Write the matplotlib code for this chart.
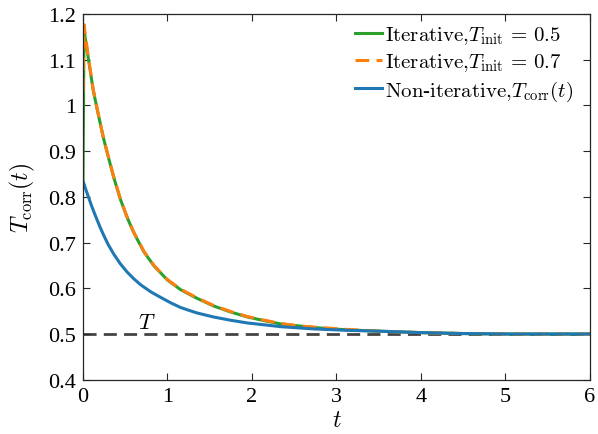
import matplotlib
matplotlib.use("Agg")
import matplotlib.pyplot as plt

plt.rcParams['font.family'] = ['Liberation Serif', 'DejaVu Serif']
plt.rcParams['mathtext.fontset'] = 'cm'

# Iterative, T_init = 0.5 (green)
t_iter05 = [0.0, 0.012, 0.063, 0.122, 0.18, 0.24, 0.30, 0.36, 0.44, 0.52, 0.60,
            0.72, 0.84, 1.0, 1.155, 1.35, 1.55, 1.75, 1.95, 2.15, 2.34, 2.54, 2.74,
            3.13, 3.53, 4.0, 4.5, 5.0, 6.0]
v_iter05 = [0.84, 1.165, 1.103, 1.032, 0.981, 0.930, 0.887, 0.845, 0.796, 0.756, 0.722,
            0.680, 0.649, 0.618, 0.597, 0.578, 0.561, 0.548, 0.537, 0.529, 0.522, 0.518,
            0.514, 0.509, 0.506, 0.503, 0.501, 0.500, 0.500]

# Iterative, T_init = 0.7 (orange dashed)
t_iter07 = [0.0, 0.012, 0.063, 0.122, 0.18, 0.24, 0.30, 0.36, 0.44, 0.52, 0.60,
            0.72, 0.84, 1.0, 1.155, 1.35, 1.55, 1.75, 1.95, 2.15, 2.34, 2.54, 2.74,
            3.13, 3.53, 4.0, 4.5, 5.0, 6.0]
v_iter07 = [1.03, 1.177, 1.106, 1.034, 0.982, 0.931, 0.888, 0.846, 0.797, 0.757, 0.723,
            0.681, 0.650, 0.619, 0.598, 0.579, 0.562, 0.549, 0.538, 0.530, 0.523, 0.518,
            0.515, 0.510, 0.506, 0.503, 0.501, 0.500, 0.500]

# Non-iterative (blue)
t_non = [0.0, 0.035, 0.07, 0.10, 0.146, 0.206, 0.25, 0.30, 0.363, 0.44, 0.52, 0.60,
         0.68, 0.80, 0.92, 1.04, 1.155, 1.25, 1.35, 1.55, 1.75, 1.95, 2.15, 2.34,
         2.74, 3.13, 3.53, 4.0, 4.5, 5.0, 6.0]
v_non = [0.835, 0.815, 0.797, 0.781, 0.759, 0.732, 0.714, 0.695, 0.675, 0.654, 0.636,
         0.621, 0.608, 0.5925, 0.580, 0.568, 0.558, 0.552, 0.546, 0.537, 0.530, 0.524,
         0.520, 0.516, 0.511, 0.508, 0.506, 0.503, 0.501, 0.500, 0.500]

T_ref = 0.5
x_ticks = [0, 1, 2, 3, 4, 5, 6]
y_ticks = [0.4, 0.5, 0.6, 0.7, 0.8, 0.9, 1.0, 1.1, 1.2]
y_tick_labels = ['0.4', '0.5', '0.6', '0.7', '0.8', '0.9', '1', '1.1', '1.2']

fig = plt.figure(figsize=(5.98, 4.35), dpi=100)
ax = fig.add_axes([0.1388, 0.1248, 0.9866 - 0.1388, 0.9655 - 0.1248])

ax.plot(t_iter05, v_iter05, color='#2ca02c', lw=2.2,
        label=r'$\mathrm{Iterative}{,}T_{\mathrm{init}}\,=\,0.5$')
ax.plot(t_iter07, v_iter07, color='#ff7f0e', lw=2.2, dashes=(4.5, 2.4),
        label=r'$\mathrm{Iterative}{,}T_{\mathrm{init}}\,=\,0.7$')
ax.plot(t_non, v_non, color='#1f77b4', lw=2.2,
        label=r'$\mathrm{Non}$-$\mathrm{iterative}{,}T_{\mathrm{corr}}(t)$')
ax.axhline(T_ref, color='#444444', lw=2.0, dashes=(4.7, 2.6), zorder=1)
ax.text(0.76, 0.522, r'$T$', fontsize=16, ha='center', va='center')

ax.set_xlim(0, 6)
ax.set_ylim(0.4, 1.2)
ax.set_xticks(x_ticks)
ax.set_yticks(y_ticks)
ax.set_yticklabels(y_tick_labels)
ax.tick_params(direction='in', top=True, right=True, labelsize=16,
               length=5, width=0.8, colors='#262626', labelcolor='black', pad=5)
for s in ax.spines.values():
    s.set_color('#262626')
    s.set_linewidth(0.9)

ax.set_xlabel(r'$t$', fontsize=17, labelpad=3)
ax.set_ylabel(r'$T_{\mathrm{corr}}(t)$', fontsize=17, labelpad=8)

ax.legend(loc='upper right', frameon=False, fontsize=15, handlelength=1.3,
          handletextpad=0.15, labelspacing=0.25, borderaxespad=0.0,
          bbox_to_anchor=(0.984, 0.995))

fig.savefig('out.png', dpi=100)
